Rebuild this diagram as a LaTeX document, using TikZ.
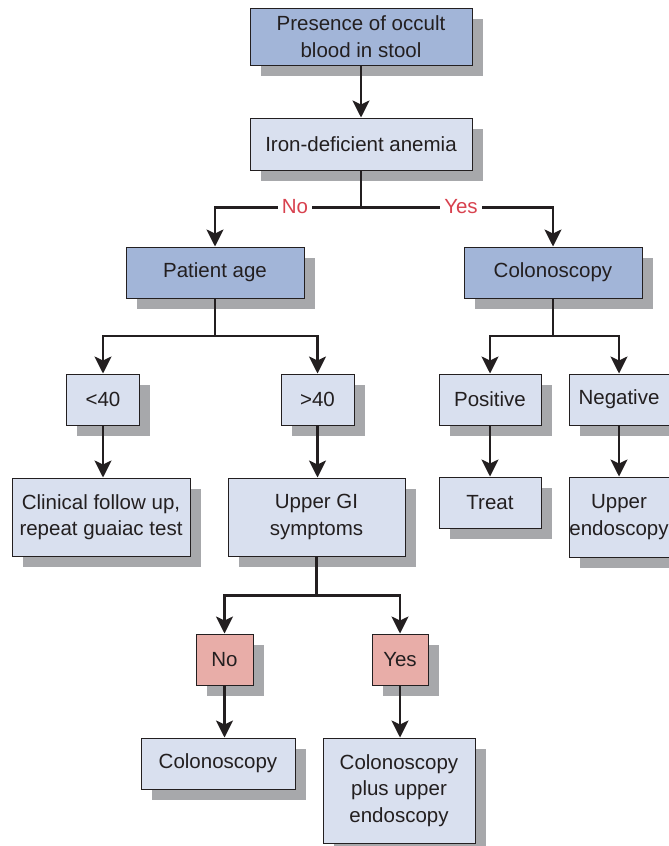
\documentclass[tikz,border=0pt]{standalone}
\usepackage{fontspec}
\setmainfont{Liberation Sans}
\usetikzlibrary{arrows.meta,shadows}
\definecolor{dkblue}{HTML}{A2B5D8}
\definecolor{ltblue}{HTML}{D9E0EF}
\definecolor{pinkbox}{HTML}{E8ADA8}
\definecolor{shgray}{HTML}{A7A8AB}
\definecolor{lblred}{HTML}{D8424F}
\definecolor{txt}{HTML}{231F20}
\tikzset{
  box/.style={draw=txt, line width=1pt, text=txt, align=center, inner sep=0pt,
    font=\fontsize{20.5}{26.5}\selectfont,
    drop shadow={shadow xshift=10.5pt, shadow yshift=-11pt, fill=shgray, opacity=1}},
  dk/.style={box, fill=dkblue},
  lt/.style={box, fill=ltblue},
  pk/.style={box, fill=pinkbox},
  arr/.style={draw=txt, line width=2.3pt, -{Stealth[width=17pt,length=17pt,inset=4pt]}},
  lbl/.style={fill=white, text=lblred, inner xsep=4pt, inner ysep=2pt, font=\fontsize{20.5}{24}\selectfont}
}
\begin{document}
\begin{tikzpicture}[x=1pt,y=-1pt]
\useasboundingbox (0,0) rectangle (669,846);
\node[dk, minimum width=222pt, minimum height=57pt] (top) at (361,36.5) {Presence of occult\\blood in stool};
\node[lt, minimum width=222pt, minimum height=52pt] (iron) at (361,144) {Iron-deficient anemia};
\node[dk, minimum width=178pt, minimum height=51pt] (age) at (215,272.5) {Patient age};
\node[dk, minimum width=178pt, minimum height=51pt] (colo1) at (553,272.5) {Colonoscopy};
\node[lt, minimum width=73pt, minimum height=51pt] (lt40) at (103,399.5) {<40};
\node[lt, minimum width=73pt, minimum height=51pt] (gt40) at (317.5,399.5) {>40};
\node[lt, minimum width=102pt, minimum height=51pt] (pos) at (490,399.5) {Positive};
\node[lt, minimum width=100pt, minimum height=51pt] (neg) at (619,399.5) {Negative};
\node[lt, minimum width=178pt, minimum height=78pt] (clin) at (101,517) {Clinical follow up,\\repeat guaiac test};
\node[lt, minimum width=177pt, minimum height=78pt] (ugi) at (316.5,517) {Upper GI\\symptoms};
\node[lt, minimum width=102pt, minimum height=51pt] (treat) at (490,502.5) {Treat};
\node[lt, minimum width=100pt, minimum height=80pt] (uendo) at (619,517) {Upper\\endoscopy};
\node[pk, minimum width=57pt, minimum height=51pt] (no2) at (224.5,659.5) {No};
\node[pk, minimum width=56pt, minimum height=51pt] (yes2) at (400,659.5) {Yes};
\node[lt, minimum width=154pt, minimum height=51pt] (colo2) at (218,763.5) {Colonoscopy};
\node[lt, minimum width=152pt, minimum height=105pt] (colop) at (399,790.5) {Colonoscopy\\plus upper\\endoscopy};
% connectors
\draw[arr] (top) -- (iron);
\draw[arr] (iron.south) -- ++(0,37) -| (age.north);
\draw[arr] (iron.south) -- ++(0,37) -| (colo1.north);
\node[lbl] (lno) at (295,207) {No};
\node[lbl] (lyes) at (461,207) {Yes};
\draw[arr] (age.south) -- ++(0,37.5) -| (lt40.north);
\draw[arr] (age.south) -- ++(0,37.5) -| (gt40.north);
\draw[arr] (colo1.south) -- ++(0,37.5) -| (pos.north);
\draw[arr] (colo1.south) -- ++(0,37.5) -| (neg.north);
\draw[arr] (lt40) -- (lt40 |- clin.north);
\draw[arr] (gt40) -- (gt40 |- ugi.north);
\draw[arr] (pos) -- (treat);
\draw[arr] (neg) -- (uendo);
\draw[arr] (ugi.south) -- ++(0,39) -| (no2.north);
\draw[arr] (ugi.south) -- ++(0,39) -| (yes2.north);
\draw[arr] (no2) -- (no2 |- colo2.north);
\draw[arr] (yes2) -- (yes2 |- colop.north);
\end{tikzpicture}
\end{document}
